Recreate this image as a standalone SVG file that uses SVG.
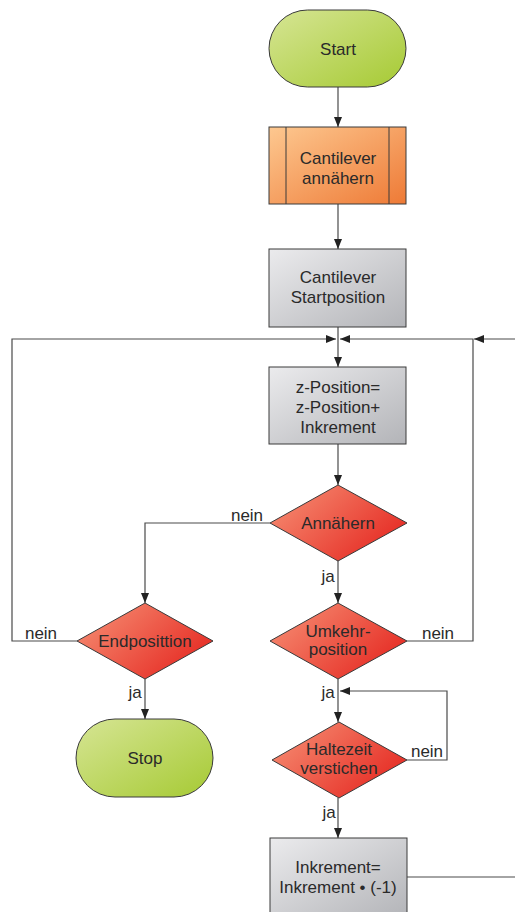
<svg xmlns="http://www.w3.org/2000/svg" width="515" height="912" viewBox="0 0 515 912">
<style>
text{font-family:"Liberation Sans",Arial,sans-serif;font-size:17px;fill:#2a2a2a;text-anchor:middle}
.lbl{font-size:17px}
.ln{fill:none;stroke:#4a4a4a;stroke-width:1.2}
.b{stroke:#3a3a3a;stroke-width:1}
</style>
<defs>
<linearGradient id="gG" x1="0" y1="0" x2="1" y2="1"><stop offset="0" stop-color="#d6e594"/><stop offset="1" stop-color="#a6ca34"/></linearGradient>
<linearGradient id="gO" x1="0" y1="0" x2="1" y2="1"><stop offset="0" stop-color="#fdc890"/><stop offset="1" stop-color="#ee7a36"/></linearGradient>
<linearGradient id="gS" x1="0" y1="0" x2="1" y2="1"><stop offset="0" stop-color="#ebebed"/><stop offset="1" stop-color="#b3b4b8"/></linearGradient>
<linearGradient id="gR" x1="0" y1="0" x2="1" y2="0.6"><stop offset="0" stop-color="#f79478"/><stop offset="1" stop-color="#e62e26"/></linearGradient>
<marker id="ar" viewBox="0 0 10 8" refX="10" refY="4" markerWidth="10" markerHeight="8" markerUnits="userSpaceOnUse" orient="auto"><path d="M0,0 L10,4 L0,8 Z" fill="#222"/></marker>
</defs>
<g id="connectors">
<path class="ln" d="M338,87 V127" marker-end="url(#ar)"/>
<path class="ln" d="M338,204 V249" marker-end="url(#ar)"/>
<path class="ln" d="M338,327 V367" marker-end="url(#ar)"/>
<path class="ln" d="M77,641 H12 V339 H336" marker-end="url(#ar)"/>
<path class="ln" d="M407,641 H473 V339 H340" marker-end="url(#ar)"/>
<path class="ln" d="M407,877 H518 V339 H474" marker-end="url(#ar)"/>
<path class="ln" d="M338,444 V485" marker-end="url(#ar)"/>
<path class="ln" d="M270,523 H145 V603" marker-end="url(#ar)"/>
<path class="ln" d="M338,561 V603" marker-end="url(#ar)"/>
<path class="ln" d="M145,679 V719" marker-end="url(#ar)"/>
<path class="ln" d="M338,679 V722" marker-end="url(#ar)"/>
<path class="ln" d="M407,760 H447 V691 H340" marker-end="url(#ar)"/>
<path class="ln" d="M338,798 V838" marker-end="url(#ar)"/>
<text class="lbl" x="247" y="521">nein</text>
<text class="lbl" x="328" y="582">ja</text>
<text class="lbl" x="41" y="639">nein</text>
<text class="lbl" x="438" y="639">nein</text>
<text class="lbl" x="135" y="698">ja</text>
<text class="lbl" x="328" y="698">ja</text>
<text class="lbl" x="427" y="757">nein</text>
<text class="lbl" x="329" y="818">ja</text>
</g>
<g id="start">
<rect class="b" x="269" y="10" width="137" height="77" rx="38.5" fill="url(#gG)"/>
<text x="338" y="55">Start</text>
</g>
<g id="annaehern">
<rect class="b" x="269" y="127" width="137" height="77" fill="url(#gO)"/>
<path class="b" d="M286,127 V204 M389,127 V204" fill="none"/>
<text x="338" y="164">Cantilever</text>
<text x="338" y="184">annähern</text>
</g>
<g id="startposition">
<rect class="b" x="269" y="249" width="137" height="78" fill="url(#gS)"/>
<text x="338" y="283">Cantilever</text>
<text x="338" y="303">Startposition</text>
</g>
<g id="zposition">
<rect class="b" x="269" y="367" width="137" height="77" fill="url(#gS)"/>
<text x="338" y="393">z-Position=</text>
<text x="338" y="413">z-Position+</text>
<text x="338" y="433">Inkrement</text>
</g>
<g id="dec-annaehern">
<path class="b" d="M338,485 L407,523 L338,561 L270,523 Z" fill="url(#gR)"/>
<text x="338" y="529">Annähern</text>
</g>
<g id="dec-endposition">
<path class="b" d="M145,603 L213,641 L145,679 L77,641 Z" fill="url(#gR)"/>
<text x="145" y="647">Endposittion</text>
</g>
<g id="dec-umkehr">
<path class="b" d="M338,603 L407,641 L338,679 L270,641 Z" fill="url(#gR)"/>
<text x="338" y="637">Umkehr-</text>
<text x="338" y="655">position</text>
</g>
<g id="dec-haltezeit">
<path class="b" d="M339,722 L407,760 L339,798 L272,760 Z" fill="url(#gR)"/>
<text x="339" y="755">Haltezeit</text>
<text x="339" y="774">verstichen</text>
</g>
<g id="stop">
<rect class="b" x="76" y="719" width="137" height="78" rx="39" fill="url(#gG)"/>
<text x="145" y="764">Stop</text>
</g>
<g id="inkrement">
<rect class="b" x="270" y="838" width="137" height="80" fill="url(#gS)"/>
<text x="338" y="873">Inkrement=</text>
<text x="338" y="893">Inkrement • (-1)</text>
</g>
</svg>
